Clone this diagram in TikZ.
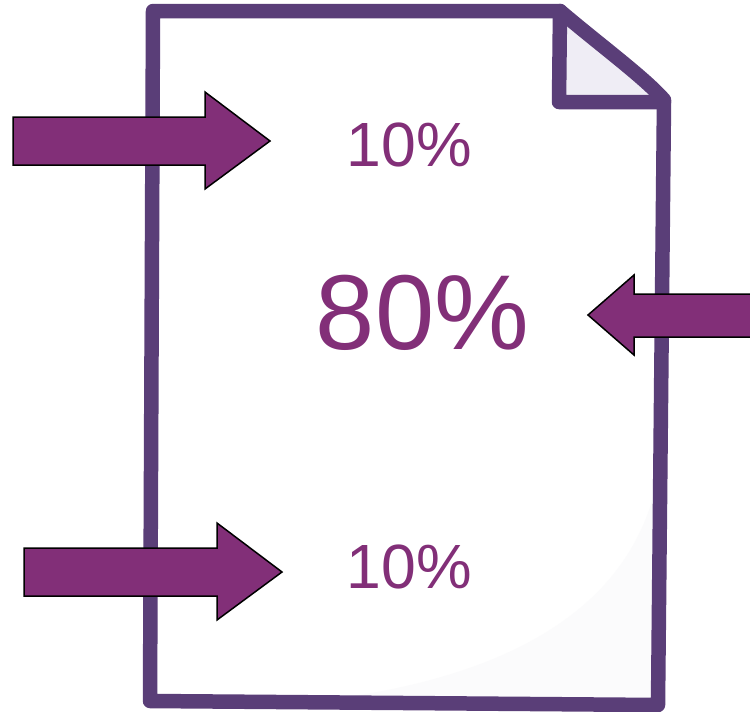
\documentclass[tikz,border=0pt]{standalone}
\usepackage{fontspec}
\setmainfont{Liberation Sans}
\definecolor{pageline}{HTML}{5A3E78}
\definecolor{arrowfill}{HTML}{822F78}
\definecolor{foldfill}{HTML}{EFEDF5}
\definecolor{shadefill}{HTML}{FBFBFC}
\tikzset{
  pageedge/.style={draw=pageline,line width=14.5pt,line join=round,line cap=round},
  pointer/.style={draw=black,fill=arrowfill,line width=1.5pt,line join=miter},
  pct/.style={text=arrowfill,anchor=base,inner sep=0pt,outer sep=0pt},
}
\begin{document}
\begin{tikzpicture}[x=1pt,y=-1pt]
\useasboundingbox (0,0) rectangle (750,712);
\clip (0,0) rectangle (750,712);
% page
\fill[white] (153,11) -- (560,11) .. controls (600,45) and (645,78) .. (664,100) -- (658,705) -- (150,701) -- cycle;
\fill[shadefill] (655,490) .. controls (630,590) and (540,670) .. (340,698) -- (652,698) -- cycle;
\fill[foldfill] (560,14) -- (560,100) -- (660,100) -- cycle;
\draw[pageedge] (153,11) -- (560,11) .. controls (600,45) and (645,78) .. (664,100) -- (658,705) -- (150,701) -- cycle;
\draw[pageedge] (560,11) -- (559,102) -- (664,102);
% arrows
\draw[pointer] (13,117) -- (205,117) -- (205,92) -- (270,141) -- (205,189) -- (205,165) -- (13,165) -- cycle;
\draw[pointer] (24,548) -- (217,548) -- (217,523) -- (282,572) -- (217,620) -- (217,596) -- (24,596) -- cycle;
\draw[pointer] (760,294) -- (634,294) -- (634,275) -- (588,315) -- (634,355) -- (634,337) -- (760,337) -- cycle;
% labels
\node[pct,font=\fontsize{62.5}{62.5}\selectfont] (top) at (409.5,166) {10\%};
\node[pct,font=\fontsize{106.5}{106.5}\selectfont] (mid) at (422.5,349) {80\%};
\node[pct,font=\fontsize{62.5}{62.5}\selectfont] (bot) at (409.5,588) {10\%};
\end{tikzpicture}
\end{document}
